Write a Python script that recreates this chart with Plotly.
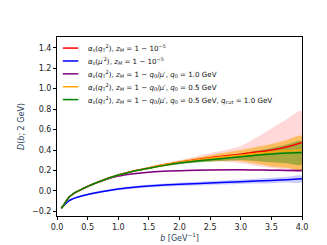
import plotly.graph_objects as go

b = [0.07, 0.1, 0.15, 0.2, 0.25, 0.3, 0.4, 0.5, 0.75, 1.0, 1.25, 1.5, 1.75, 2.0, 2.5, 3.0, 3.25, 3.5, 3.75, 4.0]

red = [-0.17, -0.145, -0.10, -0.06, -0.035, -0.015, 0.015, 0.045, 0.105, 0.155, 0.195, 0.225, 0.255, 0.28, 0.325, 0.36, 0.38, 0.40, 0.43, 0.475]
red_up = [0.002, 0.002, 0.002, 0.002, 0.002, 0.002, 0.002, 0.003, 0.003, 0.005, 0.008, 0.011, 0.015, 0.02, 0.045, 0.08, 0.14, 0.21, 0.27, 0.305]
red_dn = [0.002, 0.002, 0.002, 0.002, 0.002, 0.002, 0.002, 0.003, 0.003, 0.005, 0.008, 0.011, 0.015, 0.02, 0.035, 0.09, 0.135, 0.175, 0.22, 0.28]

blue = [-0.17, -0.15, -0.12, -0.095, -0.08, -0.068, -0.05, -0.035, -0.005, 0.02, 0.035, 0.048, 0.058, 0.065, 0.078, 0.09, 0.096, 0.102, 0.11, 0.118]
blue_err = [0.004, 0.005, 0.006, 0.007, 0.008, 0.008, 0.009, 0.01, 0.011, 0.012, 0.013, 0.014, 0.015, 0.016, 0.019, 0.022, 0.024, 0.026, 0.028, 0.03]

purple = [-0.17, -0.145, -0.10, -0.06, -0.035, -0.015, 0.015, 0.044, 0.102, 0.145, 0.168, 0.183, 0.192, 0.198, 0.205, 0.206, 0.205, 0.203, 0.201, 0.2]
purple_err = [0.003, 0.003, 0.003, 0.003, 0.003, 0.003, 0.003, 0.003, 0.004, 0.004, 0.004, 0.005, 0.005, 0.005, 0.006, 0.007, 0.007, 0.008, 0.008, 0.009]

orange = [-0.17, -0.145, -0.10, -0.06, -0.035, -0.015, 0.015, 0.045, 0.105, 0.155, 0.195, 0.225, 0.255, 0.28, 0.32, 0.35, 0.365, 0.38, 0.392, 0.40]
orange_up = [0.002, 0.002, 0.002, 0.002, 0.002, 0.002, 0.002, 0.003, 0.003, 0.005, 0.007, 0.01, 0.012, 0.015, 0.03, 0.05, 0.065, 0.08, 0.105, 0.135]
orange_dn = [0.002, 0.002, 0.002, 0.002, 0.002, 0.002, 0.002, 0.003, 0.003, 0.005, 0.007, 0.01, 0.012, 0.015, 0.03, 0.06, 0.1, 0.14, 0.165, 0.19]

green = [-0.17, -0.145, -0.10, -0.06, -0.035, -0.015, 0.015, 0.045, 0.105, 0.155, 0.193, 0.222, 0.25, 0.273, 0.305, 0.335, 0.348, 0.36, 0.37, 0.375]
green_up = [0.002, 0.002, 0.002, 0.002, 0.002, 0.002, 0.002, 0.003, 0.003, 0.004, 0.005, 0.007, 0.009, 0.012, 0.02, 0.03, 0.045, 0.06, 0.085, 0.11]
green_dn = [0.002, 0.002, 0.002, 0.002, 0.002, 0.002, 0.002, 0.003, 0.003, 0.004, 0.005, 0.007, 0.009, 0.012, 0.02, 0.035, 0.055, 0.08, 0.1, 0.115]

labels = [
    "<i>α<sub>s</sub></i>(<i>q</i><sub>T</sub><sup>2</sup>), <i>z<sub>M</sub></i> = 1 − 10<sup>−5</sup>",
    "<i>α<sub>s</sub></i>(<i>μ</i><sup>′2</sup>), <i>z<sub>M</sub></i> = 1 − 10<sup>−5</sup>",
    "<i>α<sub>s</sub></i>(<i>q</i><sub>T</sub><sup>2</sup>), <i>z<sub>M</sub></i> = 1 − <i>q</i><sub>0</sub>/<i>μ</i>′, <i>q</i><sub>0</sub> = 1.0 GeV",
    "<i>α<sub>s</sub></i>(<i>q</i><sub>T</sub><sup>2</sup>), <i>z<sub>M</sub></i> = 1 − <i>q</i><sub>0</sub>/<i>μ</i>′, <i>q</i><sub>0</sub> = 0.5 GeV",
    "<i>α<sub>s</sub></i>(<i>q</i><sub>T</sub><sup>2</sup>), <i>z<sub>M</sub></i> = 1 − <i>q</i><sub>0</sub>/<i>μ</i>′, <i>q</i><sub>0</sub> = 0.5 GeV, <i>q</i><sub>cut</sub> = 1.0 GeV",
]

series = [
    (red, red_up, red_dn, "#ff0000", "rgba(255,0,0,0.15)"),
    (blue, blue_err, blue_err, "#0000ff", "rgba(0,0,255,0.2)"),
    (purple, purple_err, purple_err, "#800080", "rgba(128,0,128,0.2)"),
    (orange, orange_up, orange_dn, "#ffa500", "rgba(255,165,0,0.55)"),
    (green, green_up, green_dn, "#008000", "rgba(0,128,0,0.35)"),
]

fig = go.Figure()
for (y, up, dn, col, fill) in series:
    hi = [v + e for v, e in zip(y, up)]
    lo = [v - e for v, e in zip(y, dn)]
    fig.add_trace(go.Scatter(x=b + b[::-1], y=hi + lo[::-1], fill="toself", fillcolor=fill,
                             line=dict(width=0), mode="lines", showlegend=False, hoverinfo="skip",
                             line_shape="spline"))
for (y, up, dn, col, fill), lab in zip(series, labels):
    fig.add_trace(go.Scatter(x=b, y=y, mode="lines", line=dict(color=col, width=1.5, shape="spline"),
                             name=lab, showlegend=False))

# manual legend (paper coordinates within plot area)
L, R, T, B = 41, 294, 29, 218
def px2x(p):
    return (p - L) / (R - L)
def py2y(p):
    return (B - p) / (B - T)
row_y = [40.7, 54.3, 67.9, 81.5, 95.1]
for (y, up, dn, col, fill), lab, ry in zip(series, labels, row_y):
    fig.add_shape(type="line", xref="paper", yref="paper", x0=px2x(47), x1=px2x(63),
                  y0=py2y(ry), y1=py2y(ry), line=dict(color=col, width=1.5))
    fig.add_annotation(xref="paper", yref="paper", x=px2x(71), y=py2y(ry), xanchor="left",
                       yanchor="middle", text=lab, showarrow=False,
                       font=dict(family="DejaVu Sans", size=7.1, color="#111"))

axis_common = dict(showgrid=False, zeroline=False, showline=True, linecolor="black", linewidth=1,
                   mirror=True, ticks="outside", ticklen=3, tickwidth=0.8, tickcolor="black",
                   tickfont=dict(family="DejaVu Sans", size=8, color="#222"))
fig.update_xaxes(range=[0, 4], dtick=0.5, tickformat=".1f",
                 title=dict(text="<i>b</i> [GeV<sup>−1</sup>]", font=dict(family="DejaVu Sans", size=8), standoff=4),
                 **axis_common)
fig.update_yaxes(range=[-0.245, 1.505], dtick=0.2, tickformat=".1f",
                 title=dict(text="<i>D</i>(<i>b</i>; 2 GeV)", font=dict(family="DejaVu Sans", size=8), standoff=6),
                 **axis_common)
fig.update_layout(
    width=327, height=245,
    margin=dict(l=41, r=33, t=29, b=27),
    plot_bgcolor="white", paper_bgcolor="white",
    showlegend=False,
    font=dict(family="DejaVu Sans"),
)
fig.write_html("out.html")
